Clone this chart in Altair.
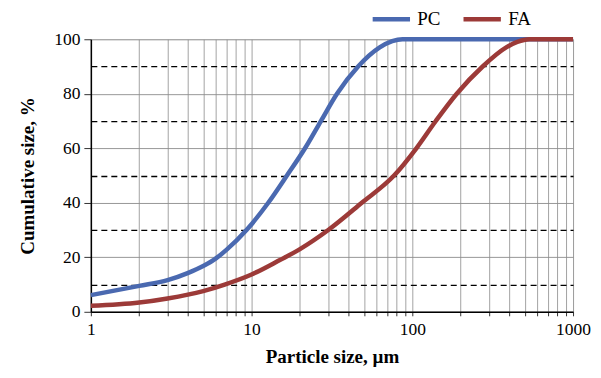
import altair as alt
import pandas as pd

pc_size = [1, 2, 3, 4, 5, 6, 7, 9.3, 12.7, 16.6, 21.5, 27, 34, 46, 62.7, 75, 87, 1000]
pc_cum = [6.1, 9.5, 11.6, 14.2, 16.8, 19.6, 22.8, 30, 40, 50, 60, 70, 80, 90, 97, 99.3, 100, 100]
fa_size = [1, 2, 3, 5, 6.8, 10, 15, 20, 30, 48.5, 77, 106, 140, 189, 274, 384, 450, 535, 1000]
fa_cum = [2.2, 3.4, 4.9, 7.6, 10, 13.7, 19, 23, 30, 40, 50, 60, 70, 80, 90, 97, 99, 100, 100]

series = ["PC", "FA"]
colors = ["#4A69B0", "#9C3A38"]

x_ticks = [1, 2, 3, 4, 5, 6, 7, 8, 9, 10, 20, 30, 40, 50, 60, 70, 80, 90,
           100, 200, 300, 400, 500, 600, 700, 800, 900, 1000]
y_ticks = [0, 10, 20, 30, 40, 50, 60, 70, 80, 90, 100]

df = pd.concat([
    pd.DataFrame({"size": pc_size, "cum": pc_cum, "series": "PC"}),
    pd.DataFrame({"size": fa_size, "cum": fa_cum, "series": "FA"}),
])

FONT = "Liberation Serif"

x_axis = alt.Axis(
    values=x_ticks,
    labelExpr="indexof([1,10,100,1000], datum.value) >= 0 ? format(datum.value, 'd') : ''",
    title="Particle size, µm",
    titleFont=FONT, titleFontSize=19, titleFontWeight="bold", titleColor="black",
    titlePadding=9,
    labelFont=FONT, labelFontSize=17.5, labelColor="black", labelPadding=5,
    domainColor="black", domainWidth=1.5,
    tickColor="black", tickSize=4, tickWidth=0.8,
    grid=True, gridColor="#8c8c8c", gridWidth=0.8,
    labelFlush=False, labelOverlap=False,
)

y_axis = alt.Axis(
    values=y_ticks,
    labelExpr="datum.value % 20 == 0 ? format(datum.value, 'd') : ''",
    title="Cumulative size, %",
    titleFont=FONT, titleFontSize=19, titleFontWeight="bold", titleColor="black",
    titlePadding=16,
    labelFont=FONT, labelFontSize=17.5, labelColor="black", labelPadding=4,
    domainColor="black", domainWidth=1.5,
    tickColor="black", tickWidth=0.8,
    tickSize=alt.ConditionalAxisNumber(condition={"test": "datum.value % 20 != 0", "value": 0}, value=7),
    grid=True,
    gridColor=alt.ConditionalAxisColor(condition={"test": "datum.value % 20 != 0", "value": "black"}, value="#8c8c8c"),
    gridDash=alt.ConditionalAxisNumberArray(condition={"test": "datum.value % 20 != 0", "value": [6, 4]}, value=[]),
    gridWidth=alt.ConditionalAxisNumber(condition={"test": "datum.value % 20 != 0", "value": 1.3}, value=0.9),
    labelOverlap=False,
)

chart = alt.Chart(df).mark_line(strokeWidth=4.5, interpolate="monotone").encode(
    x=alt.X("size:Q", scale=alt.Scale(type="log", domain=[1, 1000], nice=False), axis=x_axis),
    y=alt.Y("cum:Q", scale=alt.Scale(domain=[0, 100], nice=False), axis=y_axis),
    color=alt.Color("series:N", scale=alt.Scale(domain=series, range=colors),
                    sort=series,
                    legend=alt.Legend(
                        title=None, orient="none", direction="horizontal",
                        legendX=289, legendY=-32,
                        symbolType="M-2,0H2", symbolStrokeWidth=4.5, symbolSize=350,
                        symbolFillColor="transparent",
                        labelFont=FONT, labelFontSize=19, labelColor="black",
                        labelOffset=14, columnPadding=13,
                    )),
    detail="series:N",
).properties(
    width=483, height=273,
    autosize=alt.AutoSizeParams(type="none"),
    padding={"left": 83, "top": 31, "right": 20, "bottom": 58},
)

chart = chart.configure_view(stroke="#9a9a9a", strokeWidth=1.2).configure(
    background="white"
)

chart.save("out.html", embed_options={"renderer": "svg", "actions": False})
